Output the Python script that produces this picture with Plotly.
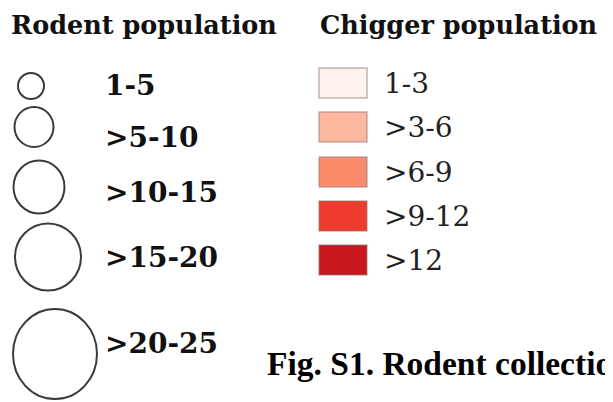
import plotly.graph_objects as go

# ---- data ----
rodent_title = "Rodent population"
rodent_labels = ["1-5", ">5-10", ">10-15", ">15-20", ">20-25"]
chigger_title = "Chigger population"
chigger_labels = ["1-3", ">3-6", ">6-9", ">9-12", ">12"]
chigger_colors = ["#FEF1EE", "#FDB9A0", "#FC8B6C", "#EE3B2E", "#C9171E"]
caption = "Fig. S1. Rodent collection sites"

# ---- layout geometry (page pixels) ----
W, H = 613, 402
OFF = 8  # default page body margin
circle_cx = [31, 34, 39, 48, 55]
circle_cy = [86, 127, 187, 257, 354]
circle_w = [26, 39, 51, 66, 84]
circle_h = [26, 40, 53, 67, 90]
rodent_label_y = [85, 137, 192, 257, 343]
sq_y0 = [68, 112, 157, 201, 245]
sq_h = 30
sq_x0, sq_x1 = 319, 367

fig = go.Figure()
fig.add_trace(go.Scatter(x=[OFF, W], y=[OFF, H], mode="markers",
                         marker=dict(opacity=0), hoverinfo="skip", showlegend=False))

shapes = []
for cx, cy, w, h in zip(circle_cx, circle_cy, circle_w, circle_h):
    shapes.append(dict(type="circle", xref="x", yref="y",
                       x0=cx - w / 2, x1=cx + w / 2, y0=cy - h / 2, y1=cy + h / 2,
                       line=dict(color="#3a3a3a", width=2), fillcolor="rgba(0,0,0,0)"))
for y0, col in zip(sq_y0, chigger_colors):
    shapes.append(dict(type="rect", xref="x", yref="y",
                       x0=sq_x0, x1=sq_x1, y0=y0, y1=y0 + sq_h,
                       line=dict(color="rgba(150,120,120,0.55)", width=1.5), fillcolor=col))

ann = []
title_font = dict(family="DejaVu Serif", size=25.5, color="#111111")
label_font = dict(family="DejaVu Serif", size=28, color="#111111")
ann.append(dict(x=9, y=25, text="<b>" + rodent_title + "</b>", xanchor="left", yanchor="middle",
                showarrow=False, font=title_font, xref="x", yref="y"))
ann.append(dict(x=318, y=25, text="<b>" + chigger_title + "</b>",
                xanchor="left", yanchor="middle", showarrow=False,
                font=dict(family="DejaVu Serif", size=25.5, color="#111111"), xref="x", yref="y"))
for lab, y in zip(rodent_labels, rodent_label_y):
    ann.append(dict(x=103, y=y, text="<b>" + lab + "</b>", xanchor="left", yanchor="middle",
                    showarrow=False, font=label_font, xref="x", yref="y"))
for lab, y0 in zip(chigger_labels, sq_y0):
    ann.append(dict(x=382, y=y0 + sq_h / 2, text=lab, xanchor="left", yanchor="middle",
                    showarrow=False, font=dict(family="DejaVu Serif", size=28, color="#222222"),
                    xref="x", yref="y"))
ann.append(dict(x=265, y=363, text="<b>" + caption + "</b>", xanchor="left", yanchor="middle",
                showarrow=False, font=dict(family="Liberation Serif", size=33.5, color="#000000"),
                xref="x", yref="y"))

fig.update_layout(
    width=W - OFF, height=H - OFF, margin=dict(l=0, r=0, t=0, b=0),
    paper_bgcolor="white", plot_bgcolor="white",
    xaxis=dict(range=[OFF, W], visible=False, fixedrange=True),
    yaxis=dict(range=[H, OFF], visible=False, fixedrange=True),
    shapes=shapes, annotations=ann, showlegend=False,
)
fig.write_html("out.html")
